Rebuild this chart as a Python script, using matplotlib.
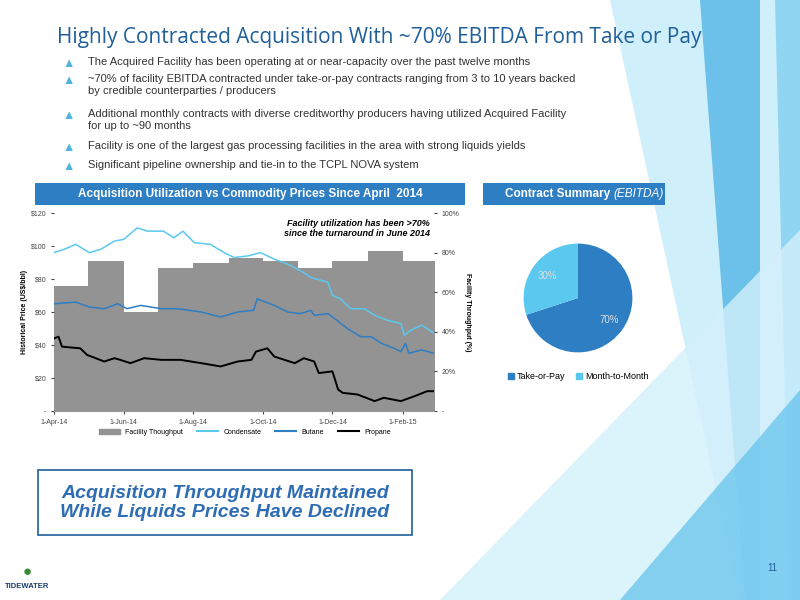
import matplotlib
matplotlib.use("Agg")
import matplotlib.pyplot as plt
from matplotlib.patches import Polygon, Rectangle, Patch
from matplotlib.lines import Line2D
import pandas as pd

plt.rcParams['font.family'] = ['Liberation Sans', 'DejaVu Sans']

# ---------------- data ----------------
start = pd.Timestamp('2014-04-01')
month_starts = ['2014-04-01','2014-05-01','2014-06-01','2014-07-01','2014-08-01','2014-09-01',
                '2014-10-01','2014-11-01','2014-12-01','2015-01-01','2015-02-01','2015-03-01']
throughput_pct = [63, 76, 50, 72, 75, 77.5, 76, 72, 76, 81, 76]

cond_days = [0,9,19,31,41,53,61,73,82,96,105,113,123,137,149,158,170,181,193,205,216,225,240,244,251,260,272,281,292,304,307,313,322,327,333]
cond_vals = [96,98,101,96,98,103,104,111,109,109,105,109,102,101,96,93,94,96,92,89,85,81,78,70,68,62,62,58,55,53,46,49,52,50,47]

but_days = [0,19,31,44,56,64,76,94,108,129,146,161,175,178,193,205,216,225,228,240,246,257,269,278,287,298,304,308,311,322,333]
but_vals = [65,66,63,62,65,62,64,62,62,60,57,60,61,68,64,60,59,61,58,59,56,50,45,45,41,38,36,41,35,37,35]

prop_days = [0,4,7,23,29,44,53,58,67,79,94,111,129,146,161,173,177,187,193,202,211,219,228,232,244,249,253,266,281,289,304,316,327,333]
prop_vals = [44,45,39,38,34,30,32,31,29,32,31,31,29,27,30,31,36,38,33,31,29,32,30,23,24,13,11,10,6,8,6,9,12,12]

pie_labels = ['Take-or-Pay', 'Month-to-Month']
pie_vals = [70, 30]

bullets = [
    "The Acquired Facility has been operating at or near-capacity over the past twelve months",
    "~70% of facility EBITDA contracted under take-or-pay contracts ranging from 3 to 10 years backed\nby credible counterparties / producers",
    "Additional monthly contracts with diverse creditworthy producers having utilized Acquired Facility\nfor up to ~90 months",
    "Facility is one of the largest gas processing facilities in the area with strong liquids yields",
    "Significant pipeline ownership and tie-in to the TCPL NOVA system",
]

# ---------------- figure ----------------
fig = plt.figure(figsize=(8, 6), dpi=100)
W, H = 800, 600
def fx(x): return x / W
def fy(y): return 1 - y / H

deco = [
    ([(610,0),(800,0),(800,600),(740,600)], '#c4ebfa', 0.8),
    ([(700,0),(760,0),(760,600),(745,600)], '#5ab9e6', 0.85),
    ([(775,0),(800,0),(800,600),(790,600)], '#8ad4f2', 0.9),
    ([(440,600),(800,230),(800,600)], '#d3f0fb', 0.8),
    ([(620,600),(800,390),(800,600)], '#6cc6ee', 0.8),
]
for pts, c, a in deco:
    fig.patches.append(Polygon([(fx(x), fy(y)) for x, y in pts], closed=True,
                               transform=fig.transFigure, facecolor=c, edgecolor='none', alpha=a, zorder=0))

fig.text(fx(57), fy(37), "Highly Contracted Acquisition With ~70% EBITDA From Take or Pay",
         fontsize=15, color='#1f5f9a', va='center', family=['Open Sans', 'DejaVu Sans'])
ys = [64, 81, 116, 148, 167]
for y, b in zip(ys, bullets):
    fig.text(fx(62), fy(y), "\u25B2", fontsize=9, color='#4fb4e0', va='center')
    fig.text(fx(88), fy(y) + 7 / H, b, fontsize=8, color='#333333', va='top', linespacing=1.25)

fig.patches.append(Rectangle((fx(35), fy(205)), fx(430), 22 / H, transform=fig.transFigure,
                             facecolor='#2e7ec4', edgecolor='none', zorder=1))
fig.patches.append(Rectangle((fx(483), fy(205)), fx(182), 22 / H, transform=fig.transFigure,
                             facecolor='#2e7ec4', edgecolor='none', zorder=1))
fig.text(fx(250), fy(194), "Acquisition Utilization vs Commodity Prices Since April  2014",
         color='white', fontsize=8.5, fontweight='bold', ha='center', va='center')
fig.text(fx(613), fy(194), "Contract Summary ", color='white', fontsize=8.5, fontweight='bold',
         ha='right', va='center')
fig.text(fx(613), fy(194), "(EBITDA)", color='white', fontsize=8.5, style='italic',
         ha='left', va='center')

# ---------------- main chart ----------------
ax = fig.add_axes([fx(54), fy(411), fx(380), (411 - 213) / H])
ax2 = ax.twinx()
ax.set_zorder(ax2.get_zorder() + 1)
ax.patch.set_visible(False)

ms = pd.to_datetime(month_starts)
ax2.fill_between(ms, list(throughput_pct) + [throughput_pct[-1]], step='post', color='#939393', lw=0)
ax2.set_ylim(0, 100)
ax2.set_yticks([0, 20, 40, 60, 80, 100])
ax2.set_yticklabels(['-', '20%', '40%', '60%', '80%', '100%'])
ax2.set_ylabel('Facility Throughput (%)', fontsize=5, rotation=270, labelpad=8, fontweight='bold')

def todates(d): return start + pd.to_timedelta(d, unit='D')
ax.plot(todates(cond_days), cond_vals, color='#5bc8f0', lw=1.1, label='Condensate')
ax.plot(todates(but_days), but_vals, color='#2e7ec4', lw=1.1, label='Butane')
ax.plot(todates(prop_days), prop_vals, color='black', lw=1.4, label='Propane')
ax.set_ylim(0, 120)
ax.set_yticks([0, 20, 40, 60, 80, 100, 120])
ax.set_yticklabels(['-', '$20', '$40', '$60', '$80', '$100', '$120'])
ax.set_ylabel('Historical Price (US$/bbl)', fontsize=5, fontweight='bold', labelpad=2)
ax.set_xlim(start, pd.Timestamp('2015-02-28'))
ticks = pd.to_datetime(['2014-04-01','2014-06-01','2014-08-01','2014-10-01','2014-12-01','2015-02-01'])
ax.set_xticks(ticks)
ax.set_xticklabels(['1-Apr-14','1-Jun-14','1-Aug-14','1-Oct-14','1-Dec-14','1-Feb-15'])
for a in (ax, ax2):
    a.tick_params(labelsize=5, length=2, colors='#444444')
    for s in a.spines.values():
        s.set_visible(False)
ax.spines['bottom'].set_visible(True)
ax.spines['bottom'].set_color('#999999')
ax.text(0.99, 0.97, "Facility utilization has been >70%\nsince the turnaround in June 2014",
        transform=ax.transAxes, ha='right', va='top', fontsize=6.5, style='italic', fontweight='bold')

handles = [Patch(color='#939393', label='Facility Thoughput'),
           Line2D([], [], color='#5bc8f0', label='Condensate'),
           Line2D([], [], color='#2e7ec4', label='Butane'),
           Line2D([], [], color='black', lw=1.5, label='Propane')]
fig.legend(handles=handles, loc='center', bbox_to_anchor=(fx(245), fy(432)), ncol=4, frameon=False,
           fontsize=5, handlelength=3, columnspacing=2)

# ---------------- pie ----------------
pax = fig.add_axes([fx(510), fy(366), fx(136), 136 / H])
pax.pie(pie_vals, colors=['#2e7ec4', '#5bc8f0'], startangle=90, counterclock=False,
        autopct='%d%%', pctdistance=0.7, textprops=dict(color='#dddddd', fontsize=7))
pax.set_aspect('equal')
pax.legend([Patch(color='#2e7ec4'), Patch(color='#5bc8f0')], pie_labels, loc='center',
           bbox_to_anchor=(0.5, -0.08), ncol=2, frameon=False, fontsize=6.5, handlelength=0.7,
           handletextpad=0.3, columnspacing=1.2)

# ---------------- footer ----------------
fig.patches.append(Rectangle((fx(38), fy(535)), fx(374), 65 / H, transform=fig.transFigure,
                             facecolor='white', edgecolor='#1f5f9a', lw=1.2, zorder=1))
fig.text(fx(225), fy(503), "Acquisition Throughput Maintained\nWhile Liquids Prices Have Declined",
         ha='center', va='center', fontsize=14, color='#2e6db4', fontweight='bold', style='italic',
         linespacing=1.2)
fig.text(fx(772), fy(568), "11", fontsize=7, color='#1f5f9a', ha='center', va='center')
fig.text(fx(27), fy(588), "TIDEWATER", fontsize=5.5, fontweight='bold', color='#1a3c6e', ha='center')
fig.text(fx(27), fy(572), "\u25CF", fontsize=11, color='#3a8a3a', ha='center', va='center')

fig.savefig('out.png', dpi=100)
